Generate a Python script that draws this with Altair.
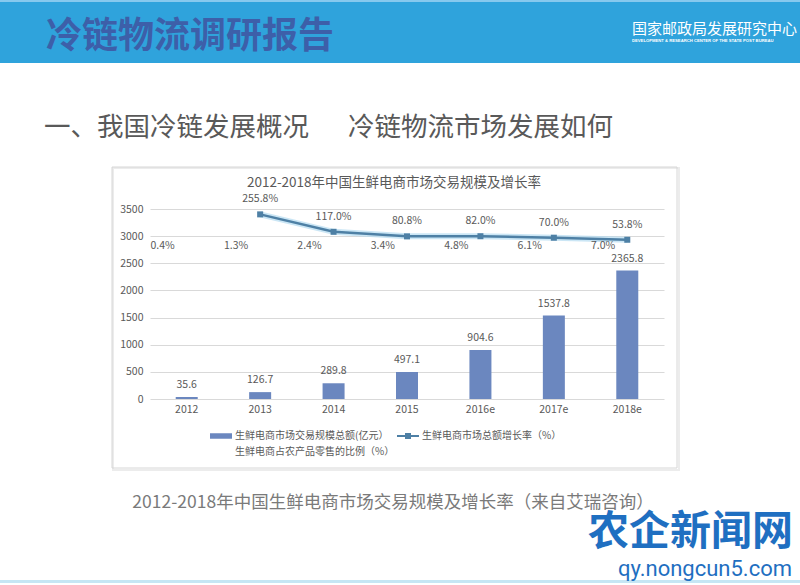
import altair as alt
import pandas as pd

# ---------------- data ----------------
years = ["2012", "2013", "2014", "2015", "2016e", "2017e", "2018e"]
market = [35.6, 126.7, 289.8, 497.1, 904.6, 1537.8, 2365.8]          # 亿元
growth = [None, 255.8, 117.0, 80.8, 82.0, 70.0, 53.8]                # %
share = [0.4, 1.3, 2.4, 3.4, 4.8, 6.1, 7.0]                          # %
y_ticks = [0, 500, 1000, 1500, 2000, 2500, 3000, 3500]

series_names = [
    "生鲜电商市场交易规模总额(亿元）",
    "生鲜电商市场总额增长率（%）",
    "生鲜电商占农产品零售的比例（%）",
]

header_title = "冷链物流调研报告"
org_cn = "国家邮政局发展研究中心"
org_en = "DEVELOPMENT & RESEARCH CENTER OF THE STATE POST BUREAU"
section1 = "一、我国冷链发展概况"
section2 = "冷链物流市场发展如何"
chart_title = "2012-2018年中国生鲜电商市场交易规模及增长率"
caption = "2012-2018年中国生鲜电商市场交易规模及增长率（来自艾瑞咨询）"
wm1 = "农企新闻网"
wm2 = "qy.nongcun5.com"

df = pd.DataFrame({"year": years, "market": market, "growth": growth, "share": share})

# ---------------- style ----------------
FONT = "Noto Sans CJK SC, Noto Sans, sans-serif"
GRAY = "#595959"
BAR = "#6b87bf"
LINE = "#4e80a5"
GLOW = "#b5dcf1"
W, H = 514, 190
OX, OY = 150, 209  # plot origin on the 800x585 page

X = alt.X(
    "year:N", sort=years,
    scale=alt.Scale(domain=years, paddingInner=0, paddingOuter=0),
    axis=alt.Axis(title=None, labelAngle=0, domain=False, ticks=False, grid=False,
                  labelFont=FONT, labelFontSize=10.5, labelColor=GRAY, labelPadding=5),
)
left_scale = alt.Scale(domain=[0, 3500], nice=False, zero=False)
right_scale = alt.Scale(domain=[-1213, 298.5], nice=False, zero=False)
Y_LEFT = alt.Y("market:Q", scale=left_scale,
               axis=alt.Axis(title=None, values=y_ticks, format="d", domain=False, ticks=False,
                             labelFont=FONT, labelFontSize=10.5, labelColor=GRAY,
                             labelPadding=7, gridColor="#d9d9d9", gridWidth=1))

base = alt.Chart(df)

bars = base.mark_bar(size=22, color=BAR).encode(x=X, y=Y_LEFT)
bar_labels = base.transform_calculate(
    t="format(datum.market, '.1f')"
).mark_text(font=FONT, fontSize=10.5, color=GRAY, baseline="middle", dy=-12).encode(
    x=X, y=Y_LEFT, text="t:N"
)
left = alt.layer(bars, bar_labels)

gbase = base.transform_filter("isValid(datum.growth)")
glow = gbase.mark_line(color=GLOW, strokeWidth=6, opacity=0.7).encode(
    x=X, y=alt.Y("growth:Q", scale=right_scale, axis=None))
line = gbase.mark_line(color=LINE, strokeWidth=2.5).encode(
    x=X, y=alt.Y("growth:Q", scale=right_scale, axis=None))
pts = gbase.mark_point(shape="square", filled=True, size=36, opacity=1, color=LINE).encode(
    x=X, y=alt.Y("growth:Q", scale=right_scale, axis=None))
g_labels = gbase.transform_calculate(
    t="format(datum.growth, '.1f') + '%'"
).mark_text(font=FONT, fontSize=10.5, color=GRAY, baseline="middle", dy=-15).encode(
    x=X, y=alt.Y("growth:Q", scale=right_scale, axis=None), text="t:N")
s_labels = base.transform_calculate(
    t="format(datum.share, '.1f') + '%'"
).mark_text(font=FONT, fontSize=10.5, color=GRAY, baseline="middle", align="right", dx=-12).encode(
    x=X, y=alt.Y("share:Q", scale=right_scale, axis=None), text="t:N")
right = alt.layer(glow, line, pts, g_labels, s_labels)

# ---------------- legend (native legend, invisible points) ----------------
# legend entries are filled column by column: bar + share in column 1, line in column 2
legend_order = [series_names[0], series_names[2], series_names[1]]
rect_path = "M-2.2,-0.55H2.2V0.55H-2.2Z"
line_path = "M-2.2,-0.2H2.2V0.2H-2.2Z M-0.6,-0.6H0.6V0.6H-0.6Z"
leg = alt.Legend(
    title=None, orient="none", legendX=66, legendY=222, columns=2,
    symbolSize=100, symbolStrokeWidth=0, labelFont=FONT, labelFontSize=10,
    labelColor=GRAY, labelOffset=9, columnPadding=2, rowPadding=6,
    labelLimit=400, padding=0,
)
legend_layer = alt.Chart(pd.DataFrame({"series": series_names})).mark_point(
    filled=True, opacity=1, size=100, clip=True
).encode(
    x=alt.value(0), y=alt.value(2000),
    color=alt.Color("series:N", sort=legend_order,
                    scale=alt.Scale(domain=legend_order, range=[BAR, "transparent", LINE]),
                    legend=leg),
    shape=alt.Shape("series:N", sort=legend_order,
                    scale=alt.Scale(domain=legend_order, range=[rect_path, "circle", line_path]),
                    legend=leg),
)

# ---------------- page decoration ----------------
one = alt.Chart(alt.Data(values=[{"k": 1}]))


def box(x1, y1, x2, y2, **kw):
    return one.mark_rect(**kw).encode(
        x=alt.value(x1 - OX), x2=alt.value(x2 - OX),
        y=alt.value(y1 - OY), y2=alt.value(y2 - OY))


def label(txt, x, y, **kw):
    return one.mark_text(text=txt, baseline="middle", **kw).encode(
        x=alt.value(x - OX), y=alt.value(y - OY))


header = box(0, 0, 800, 63, color="#2fa3dc")
header_top = box(0, 0, 800, 2, color="#86c9ee")
panel_shadow = box(113, 168, 679, 470, fill="none", stroke="#ececec", strokeWidth=2)
panel = box(112, 167, 677, 468, fill="none", stroke="#d6d6d6", strokeWidth=1)
bottom_line = box(0, 580, 800, 583, color="#c6e6f4")

t_header = label(header_title, 46, 37, font=FONT, fontSize=36, fontWeight="bold",
                 color="#3d5fa9", align="left")
t_org = label(org_cn, 632, 29, font=FONT, fontSize=15, color="white", align="left")
t_org_en = label(org_en, 632, 41, font="Liberation Sans", fontSize=4.2, color="white",
                 align="left", fontWeight="bold")
t_sec1 = label(section1, 44, 128, font=FONT, fontSize=26.5, color=GRAY, align="left")
t_sec2 = label(section2, 348, 128, font=FONT, fontSize=26.5, color=GRAY, align="left")
t_title = label(chart_title, 394, 183, font=FONT, fontSize=13.5, color=GRAY, align="center")
t_caption = label(caption, 393, 503, font=FONT, fontSize=17.5, color="#7a7a7a", align="center")
t_wm1 = label(wm1, 793, 533, font=FONT, fontSize=41, fontWeight="bold", color="#1f6fc1",
              align="right")
t_wm2 = label(wm2, 792, 569, font="Roboto", fontSize=22, color="#1f6fc1", align="right")

chart = alt.layer(
    header, header_top, panel_shadow, panel, bottom_line,
    t_header, t_org, t_org_en, t_sec1, t_sec2, t_title, t_caption, t_wm1, t_wm2,
    left, right, legend_layer,
).resolve_scale(y="independent").properties(
    width=W, height=H,
    padding={"left": OX, "top": OY, "right": 800 - OX - W, "bottom": 585 - OY - H},
    autosize=alt.AutoSizeParams(type="none"),
    background="white",
).configure_view(stroke=None)

chart.save("out.html", embed_options={"renderer": "svg", "actions": False})
